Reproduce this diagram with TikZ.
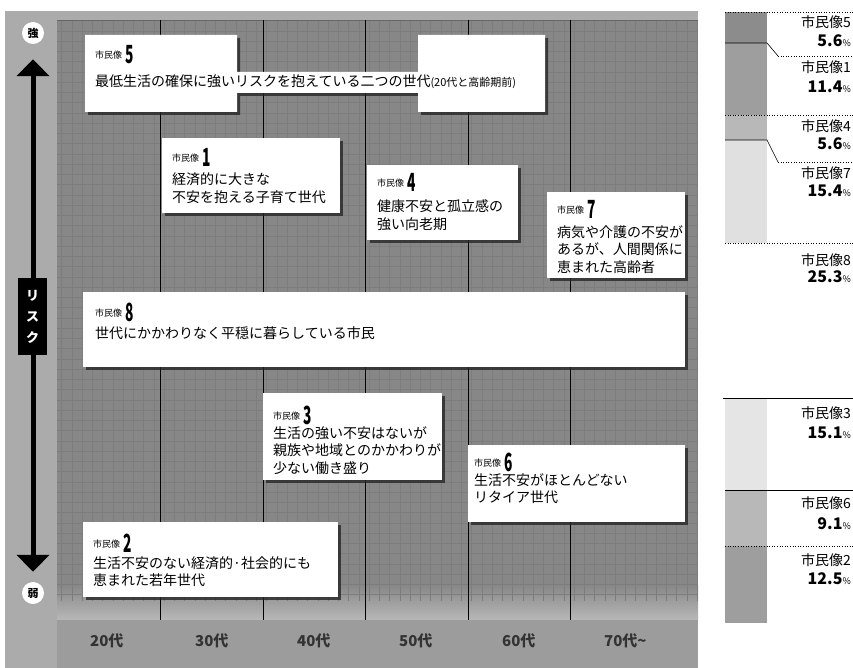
\documentclass[tikz,border=0pt]{standalone}
\usepackage{fontspec}
\setmainfont{Noto Sans CJK JP}
\usepackage{graphicx}
\usetikzlibrary{shadows,arrows.meta}
\newcommand{\shimin}[1]{{\fontsize{9}{9}\selectfont 市民像}\hspace{3pt}\raisebox{-5pt}{\scalebox{0.55}[1]{\fontsize{25}{25}\selectfont\bfseries #1}}}
\newcommand{\pct}[1]{{\bfseries #1}{\fontsize{9}{9}\selectfont\%}}
\tikzset{
  card/.style={fill=white, drop shadow={shadow xshift=3pt, shadow yshift=-3pt, fill=black!85, opacity=0.8}},
  cardnode/.style={card, anchor=north west, inner sep=0pt, draw=none},
  hdr/.style={anchor=base west, inner sep=0pt},
  body/.style={anchor=base west, inner sep=0pt, align=left, font=\fontsize{14}{17.5}\selectfont},
  agelab/.style={font=\fontsize{15}{15}\selectfont\bfseries, text=black!80, inner sep=0pt, anchor=west},
  endcirc/.style={circle, fill=white, minimum size=22pt, inner sep=0pt, font=\fontsize{11}{11}\selectfont\bfseries},
  collabel/.style={anchor=base east, inner sep=0pt, font=\fontsize{14}{14}\selectfont},
  pctlabel/.style={anchor=base east, inner sep=0pt, font=\fontsize{16}{16}\selectfont},
  colline/.style={black, line width=0.8pt},
  dotline/.style={black, line width=0.6pt, dotted},
  solline/.style={black, line width=0.6pt}
}
\begin{document}
\begin{tikzpicture}[x=1pt,y=-1pt]
\useasboundingbox (0,0) rectangle (853,668);
\fill[white] (0,0) rectangle (853,668);
% ---------- left panel backgrounds
\fill[black!33] (5,11) rectangle (698,668);
\fill[black!47] (57,20) rectangle (698,620);
\shade[top color=black!47, bottom color=black!28] (57,585) rectangle (698,620);
\fill[black!39] (57,620) rectangle (698,668);
% fine texture grid
\begin{scope}
\clip (57,20) rectangle (698,600);
\draw[black!51, line width=0.25pt] (57,20) grid[xstep=10.25pt, ystep=10.25pt] (698,620);
\end{scope}
\draw[black!60, line width=0.5pt] (57,20) -- (698,20);
% column lines
\foreach \cx in {160,263,365,468,570}{
  \draw[colline] (\cx,20) -- (\cx,620);
}
% ---------- risk axis
\node[endcirc] (strong) at (33,33) {強};
\node[endcirc] (weak) at (33,593) {弱};
\draw[line width=5pt, {Triangle[width=32pt,length=17pt]}-{Triangle[width=32pt,length=17pt]}, shorten <=15pt, shorten >=10pt] (strong.south) -- (weak.north);
\node[fill=black, text=white, minimum width=29pt, minimum height=77pt, inner sep=0pt, align=center, font=\fontsize{13}{21}\selectfont\bfseries] (risk) at (32.5,316.5) {リ\\ス\\ク};
% ---------- cards
\fill[card] (85,35) -- (237,35) -- (237,72) -- (418,72) -- (418,35) -- (545,35) -- (545,112) -- (418,112) -- (418,93) -- (237,93) -- (237,112) -- (85,112) -- cycle;
\node[hdr] (h5) at (95,59) {\shimin{5}};
\node[body] (t5) at (95,87) {最低生活の確保に強いリスクを抱えている二つの世代{\fontsize{11}{11}\selectfont (20代と高齢期前)}};

\node[cardnode, minimum width=178pt, minimum height=75pt] (b1) at (162,138) {};
\node[hdr] (h1) at (172,162) {\shimin{1}};
\node[body] (t1) at (172,202.5) {経済的に大きな\\不安を抱える子育て世代};

\node[cardnode, minimum width=151pt, minimum height=75pt] (b4) at (367,165) {};
\node[hdr] (h4) at (377,187) {\shimin{4}};
\node[body] (t4) at (377,229.5) {健康不安と孤立感の\\強い向老期};

\node[cardnode, minimum width=138pt, minimum height=86pt] (b7) at (547,192) {};
\node[hdr] (h7) at (557,214) {\shimin{7}};
\node[body] (t7) at (557,272) {病気や介護の不安が\\あるが、人間関係に\\恵まれた高齢者};

\node[cardnode, minimum width=602pt, minimum height=75pt] (b8) at (83,292) {};
\node[hdr] (h8) at (95,316) {\shimin{8}};
\node[body] (t8) at (95,338) {世代にかかわりなく平穏に暮らしている市民};

\node[cardnode, minimum width=179pt, minimum height=87pt] (b3) at (263,393) {};
\node[hdr] (h3) at (273,419) {\shimin{3}};
\node[body] (t3) at (273,473) {生活の強い不安はないが\\親族や地域とのかかわりが\\少ない働き盛り};

\node[cardnode, minimum width=217pt, minimum height=77pt] (b6) at (468,445) {};
\node[hdr] (h6) at (474,466) {\shimin{6}};
\node[body] (t6) at (474,502.5) {生活不安がほとんどない\\リタイア世代};

\node[cardnode, minimum width=255pt, minimum height=75pt] (b2) at (83,522) {};
\node[hdr] (h2) at (93,547) {\shimin{2}};
\node[body] (t2) at (93,585.5) {生活不安のない経済的·社会的にも\\恵まれた若年世代};

% ---------- age labels
\node[agelab] (a20) at (90,641) {20代};
\node[agelab] (a30) at (195,641) {30代};
\node[agelab] (a40) at (297,641) {40代};
\node[agelab] (a50) at (399,641) {50代};
\node[agelab] (a60) at (502,641) {60代};
\node[agelab] (a70) at (604,641) {70代\textasciitilde};

% ---------- right stacked bar
\fill[black!45] (725,12) rectangle (767,43);
\fill[black!38] (725,43) rectangle (767,115);
\fill[black!28] (725,115) rectangle (767,140);
\fill[black!12] (725,140) rectangle (767,243);
\fill[black!10] (725,398) rectangle (767,490);
\fill[black!28] (725,490) rectangle (767,546);
\fill[black!38] (725,546) rectangle (767,623);
\draw[dotline] (725,12) -- (853,12);
\draw[solline] (725,43) -- (767,43) -- (778,56);
\draw[dotline] (778,56) -- (853,56);
\draw[dotline] (725,115) -- (853,115);
\draw[solline] (725,140) -- (767,140) -- (778,162);
\draw[dotline] (778,162) -- (853,162);
\draw[dotline] (725,243) -- (853,243);
\draw[solline] (723,398) -- (853,398);
\draw[solline] (725,490) -- (853,490);
\draw[dotline] (725,546) -- (853,546);

\node[collabel] (c5) at (851,28) {市民像5};
\node[pctlabel] (p5) at (851,47) {\pct{5.6}};
\node[collabel] (c1) at (851,73) {市民像1};
\node[pctlabel] (p1) at (851,93) {\pct{11.4}};
\node[collabel] (c4) at (851,132) {市民像4};
\node[pctlabel] (p4) at (851,150) {\pct{5.6}};
\node[collabel] (c7) at (851,179) {市民像7};
\node[pctlabel] (p7) at (851,197) {\pct{15.4}};
\node[collabel] (c8) at (851,265) {市民像8};
\node[pctlabel] (p8) at (851,282) {\pct{25.3}};
\node[collabel] (c3) at (851,418) {市民像3};
\node[pctlabel] (p3) at (851,438) {\pct{15.1}};
\node[collabel] (c6) at (851,508) {市民像6};
\node[pctlabel] (p6) at (851,529) {\pct{9.1}};
\node[collabel] (c2) at (851,565) {市民像2};
\node[pctlabel] (p2) at (851,584) {\pct{12.5}};
\end{tikzpicture}
\end{document}
